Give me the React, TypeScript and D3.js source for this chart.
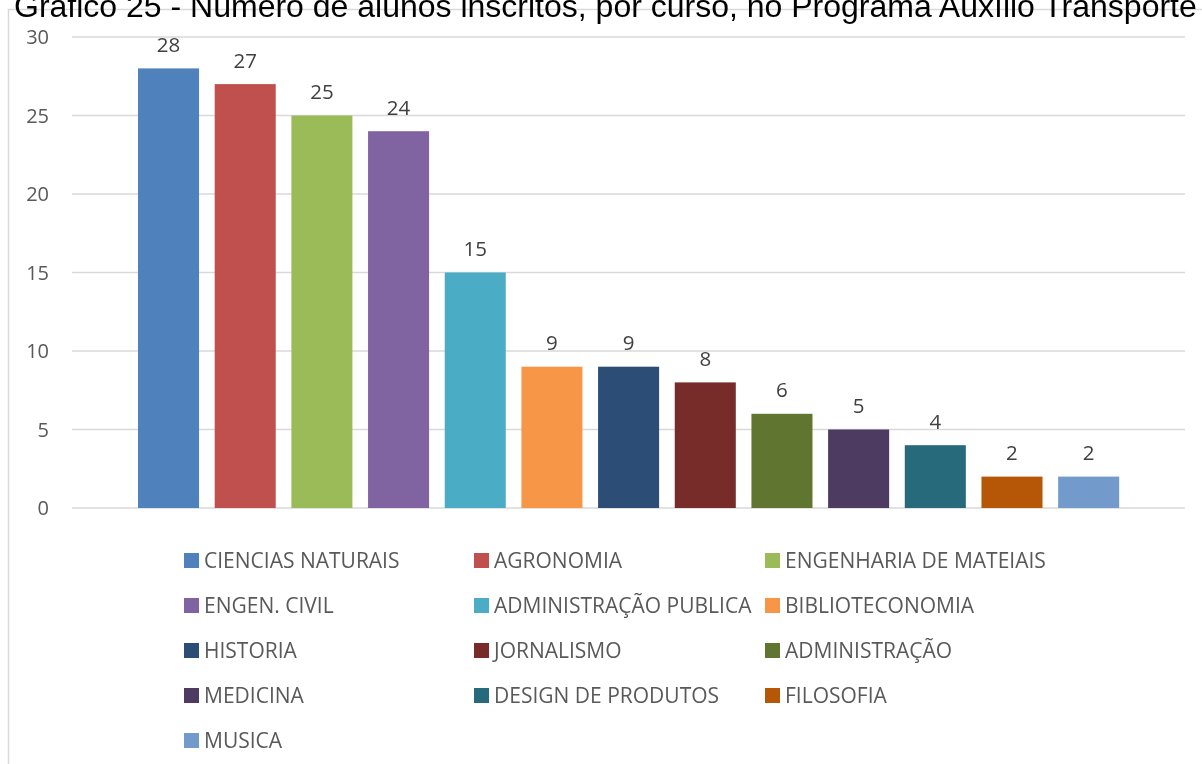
import React, { useEffect, useRef } from 'react';
import * as d3 from 'd3';

const titleText = 'Gráfico 25 - Número de alunos inscritos, por curso, no Programa Auxílio Transporte';

const courses = [
    'CIENCIAS NATURAIS',
    'AGRONOMIA',
    'ENGENHARIA DE MATEIAIS',
    'ENGEN. CIVIL',
    'ADMINISTRAÇÃO PUBLICA',
    'BIBLIOTECONOMIA',
    'HISTORIA',
    'JORNALISMO',
    'ADMINISTRAÇÃO',
    'MEDICINA',
    'DESIGN DE PRODUTOS',
    'FILOSOFIA',
    'MUSICA',
];

const students = [28, 27, 25, 24, 15, 9, 9, 8, 6, 5, 4, 2, 2];

const courseColors = [
    '#4F81BD', '#C0504D', '#9BBB59', '#8064A2', '#4BACC6', '#F79646',
    '#2C4D75', '#772C2A', '#5F7530', '#4D3B62', '#276A7C', '#B65708', '#729ACA',
];

const yTicks = [0, 5, 10, 15, 20, 25, 30];

const W = 1202;
const H = 764;
const FONT = '"Open Sans", Lato, sans-serif';

const App: React.FC = () => {
    const ref = useRef<SVGSVGElement>(null);

    useEffect(() => {
        if (!ref.current) return;
        const svg = d3.select(ref.current);
        svg.selectAll('*').remove();

        // chart frame (extends past the picture on the right and bottom)
        svg.append('rect')
            .attr('x', 8.5)
            .attr('y', 9.5)
            .attr('width', W)
            .attr('height', H)
            .attr('fill', '#fff')
            .attr('stroke', '#d9d9d9')
            .attr('stroke-width', 1.5);

        // title sits above the frame, its top cut off by the page edge
        svg.append('text')
            .attr('x', 14)
            .attr('y', 17)
            .style('font-family', 'Arial, "Liberation Sans", sans-serif')
            .style('font-size', '32px')
            .style('fill', '#000')
            .text(titleText);

        const gridLeft = 72;
        const gridRight = 1185;

        const y = d3.scaleLinear().domain([0, 30]).range([508, 37]);

        const x = d3.scaleBand<string>()
            .domain(courses)
            .range([130.2, 1127])
            .paddingInner(0.204)
            .paddingOuter(0.102);

        const grid = svg.append('g');
        grid.selectAll('line')
            .data(yTicks)
            .enter()
            .append('line')
            .attr('x1', gridLeft)
            .attr('x2', gridRight)
            .attr('y1', (d: number) => y(d))
            .attr('y2', (d: number) => y(d))
            .attr('stroke', '#d9d9d9')
            .attr('stroke-width', 1.5);

        grid.selectAll('text')
            .data(yTicks)
            .enter()
            .append('text')
            .attr('x', 49)
            .attr('y', (d: number) => y(d))
            .attr('dy', '0.36em')
            .attr('text-anchor', 'end')
            .style('font-family', FONT)
            .style('font-size', '20px')
            .style('fill', '#595959')
            .text((d: number) => String(d));

        const bars = svg.append('g');
        bars.selectAll('rect')
            .data(students)
            .enter()
            .append('rect')
            .attr('x', (_d: number, i: number) => x(courses[i]) as number)
            .attr('y', (d: number) => y(d))
            .attr('width', x.bandwidth())
            .attr('height', (d: number) => y(0) - y(d))
            .attr('fill', (_d: number, i: number) => courseColors[i]);

        bars.selectAll('text')
            .data(students)
            .enter()
            .append('text')
            .attr('x', (_d: number, i: number) => (x(courses[i]) as number) + x.bandwidth() / 2)
            .attr('y', (d: number) => y(d) - 16.5)
            .attr('text-anchor', 'middle')
            .style('font-family', FONT)
            .style('font-size', '20.5px')
            .style('fill', '#404040')
            .text((d: number) => String(d));

        // legend: 3 columns
        const colX = [184, 474, 765];
        const rowY0 = 560;
        const rowStep = 45;
        const legend = svg.append('g');
        const items = legend.selectAll('g')
            .data(courses)
            .enter()
            .append('g')
            .attr('transform', (_d: string, i: number) =>
                `translate(${colX[i % 3]}, ${rowY0 + Math.floor(i / 3) * rowStep})`);

        items.append('rect')
            .attr('x', 0)
            .attr('y', -7)
            .attr('width', 15)
            .attr('height', 15)
            .attr('fill', (_d: string, i: number) => courseColors[i]);

        items.append('text')
            .attr('x', 20)
            .attr('y', 0)
            .attr('dy', '0.357em')
            .style('font-family', FONT)
            .style('font-size', '21px')
            .style('fill', '#595959')
            .text((d: string) => d);
    }, []);

    return (
        <div style={{ position: 'fixed', left: 0, top: 0 }}>
            <svg ref={ref} width={W} height={H} style={{ display: 'block' }}></svg>
        </div>
    );
};

export default App;
